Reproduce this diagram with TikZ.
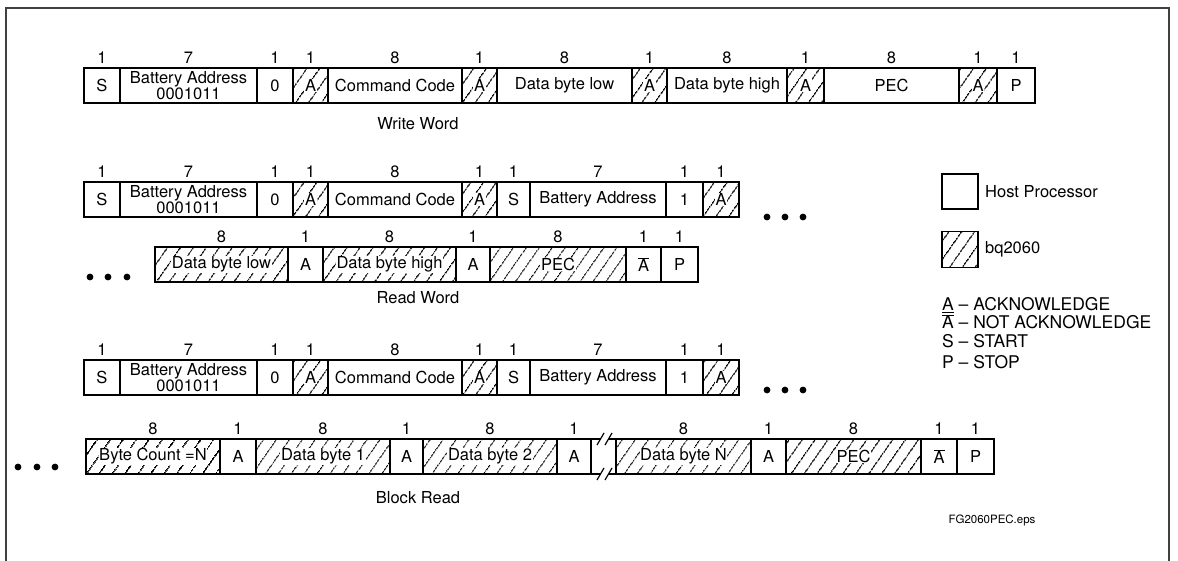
\documentclass[tikz,border=0pt]{standalone}
\usepackage{fontspec}
\setmainfont{TeX Gyre Heros}
\usetikzlibrary{patterns.meta,positioning,calc}

\newcommand{\whitebg}[1]{{\setlength{\fboxsep}{0.6pt}\colorbox{white}{#1}}}
\newcommand{\nack}{$\overline{\mbox{A}}$}

\tikzset{
	every node/.style={font=\fontsize{16.5pt}{15.5pt}\selectfont},
	cell/.style={draw, rectangle, line width=1.6pt, minimum height=35pt,
		inner sep=0pt, outer sep=0pt, align=center},
	cellplain/.style={cell, fill=white},
	cellhatch/.style={cell, pattern={Lines[angle=55,distance=10.5pt,line width=1.1pt]}},
	countlbl/.style={inner sep=0pt},
	legtxt/.style={inner sep=0pt, anchor=base west, font=\fontsize{17.5pt}{17pt}\selectfont}
}

\begin{document}
\begin{tikzpicture}[x=1pt, y=-1pt]
	\useasboundingbox (0,0) rectangle (1178,561);
	% frame
	\draw[line width=1.1pt, black!75] (6,561) -- (6,8) -- (1169,8) -- (1169,561);

	% Write Word
	\foreach \l/\r/\txt/\st/\c [count=\i] in {
		84/120/S/cellplain/1,
		120/257/{Battery Address\\0001011}/cellplain/7,
		257/293/0/cellplain/1,
		293/328/\whitebg{A}/cellhatch/1,
		328/462/Command Code/cellplain/8,
		462/497/\whitebg{A}/cellhatch/1,
		497/632/Data byte low/cellplain/8,
		632/667/\whitebg{A}/cellhatch/1,
		667/787/Data byte high/cellplain/8,
		787/824/\whitebg{A}/cellhatch/1,
		824/959/PEC/cellplain/8,
		959/997/\whitebg{A}/cellhatch/1,
		997/1035/P/cellplain/1}
	{
		\node[\st, minimum width={\r-\l}] (ww\i) at ({(\l+\r)/2},85.5) {\txt};
		\node[countlbl] (wwn\i) at ({(\l+\r)/2},57.5) {\c};
	}
	\node (wwtitle) at (418,124) {Write Word};

	% Read Word
	\foreach \l/\r/\txt/\st/\c [count=\i] in {
		84/120/S/cellplain/1,
		120/257/{Battery Address\\0001011}/cellplain/7,
		257/293/0/cellplain/1,
		293/328/\whitebg{A}/cellhatch/1,
		328/462/Command Code/cellplain/8,
		462/497/\whitebg{A}/cellhatch/1,
		497/530/S/cellplain/1,
		530/666/Battery Address/cellplain/7,
		666/703/1/cellplain/1,
		703/739/\whitebg{A}/cellhatch/1}
	{
		\node[\st, minimum width={\r-\l}] (rwa\i) at ({(\l+\r)/2},199.5) {\txt};
		\node[countlbl] (rwan\i) at ({(\l+\r)/2},171.5) {\c};
	}
	\foreach \x in {767,785,803}
		\fill (\x,217) circle (3.4pt);
	\foreach \l/\r/\txt/\st/\c [count=\i] in {
		155/288/\whitebg{Data byte low}/cellhatch/8,
		288/323/A/cellplain/1,
		323/456/\whitebg{Data byte high}/cellhatch/8,
		456/490/A/cellplain/1,
		490/626/\whitebg{PEC}/cellhatch/8,
		626/661/\nack/cellplain/1,
		661/698/P/cellplain/1}
	{
		\node[\st, minimum width={\r-\l}] (rwb\i) at ({(\l+\r)/2},264.5) {\txt};
		\node[countlbl] (rwbn\i) at ({(\l+\r)/2},236.5) {\c};
	}
	\foreach \x in {90,108,127}
		\fill (\x,277) circle (3.4pt);
	\node (rwtitle) at (418,298) {Read Word};

	% Block Read
	\foreach \l/\r/\txt/\st/\c [count=\i] in {
		84/120/S/cellplain/1,
		120/257/{Battery Address\\0001011}/cellplain/7,
		257/293/0/cellplain/1,
		293/328/\whitebg{A}/cellhatch/1,
		328/462/Command Code/cellplain/8,
		462/497/\whitebg{A}/cellhatch/1,
		497/530/S/cellplain/1,
		530/666/Battery Address/cellplain/7,
		666/703/1/cellplain/1,
		703/739/\whitebg{A}/cellhatch/1}
	{
		\node[\st, minimum width={\r-\l}] (bra\i) at ({(\l+\r)/2},377.5) {\txt};
		\node[countlbl] (bran\i) at ({(\l+\r)/2},349.5) {\c};
	}
	\foreach \x in {767,785,803}
		\fill (\x,390) circle (3.4pt);
	\foreach \l/\r/\txt/\st/\c [count=\i] in {
		86/220/\whitebg{Byte Count =N}/cellhatch/8,
		220/256/A/cellplain/1,
		256/390/\whitebg{Data byte 1}/cellhatch/8,
		390/423/A/cellplain/1,
		423/557/\whitebg{Data byte 2}/cellhatch/8,
		557/591/A/cellplain/1,
		616/751/\whitebg{Data byte N}/cellhatch/8,
		751/786/A/cellplain/1,
		786/921/\whitebg{PEC}/cellhatch/8,
		921/957/\nack/cellplain/1,
		957/994/P/cellplain/1}
	{
		\node[\st, minimum width={\r-\l}] (brb\i) at ({(\l+\r)/2},456.5) {\txt};
		\node[countlbl] (brbn\i) at ({(\l+\r)/2},428.5) {\c};
	}
	\foreach \x in {18,37,55}
		\fill (\x,467) circle (3.4pt);
	% break between Data byte 2 and Data byte N
	\coordinate (brkTL) at (601,439);
	\coordinate (brkBL) at (601,474);
	\coordinate (brkTR) at (609,439);
	\coordinate (brkBR) at (609,474);
	\draw[line width=1.6pt] (brb6.north east) -- (brkTL);
	\draw[line width=1.6pt] (brb6.south east) -- (brkBL);
	\draw[line width=1.6pt] (brkTR) -- (brb7.north west);
	\draw[line width=1.6pt] (brkBR) -- (brb7.south west);
	\draw[line width=1.2pt] ($(brkTL)+(-4,6)$) -- ($(brkTL)+(3,-6)$);
	\draw[line width=1.2pt] ($(brkBL)+(-4,6)$) -- ($(brkBL)+(3,-6)$);
	\draw[line width=1.2pt] ($(brkTR)+(-4,6)$) -- ($(brkTR)+(3,-6)$);
	\draw[line width=1.2pt] ($(brkBR)+(-4,6)$) -- ($(brkBR)+(3,-6)$);
	\node (brtitle) at (418,498) {Block Read};

	% legend
	\node[cellplain, minimum width=36pt] (host) at (960,191.5) {};
	\node[inner sep=0pt, right=7pt of host] (hostlbl) {Host Processor};
	\node[cellhatch, minimum width=36pt, minimum height=36pt] (bq) at (960,249.5) {};
	\node[inner sep=0pt, right=7pt of bq] (bqlbl) {bq2060};
	\node[legtxt] (ack) at (942,311) {\underline{A} -- ACKNOWLEDGE};
	\node[legtxt] (nack) at (942,329) {\nack{} -- NOT ACKNOWLEDGE};
	\node[legtxt] (start) at (942,348) {S -- START};
	\node[legtxt] (stop) at (942,368) {P -- STOP};

	\node[font=\fontsize{11.5pt}{12pt}\selectfont] (fname) at (992,520) {FG2060PEC.eps};
\end{tikzpicture}
\end{document}
